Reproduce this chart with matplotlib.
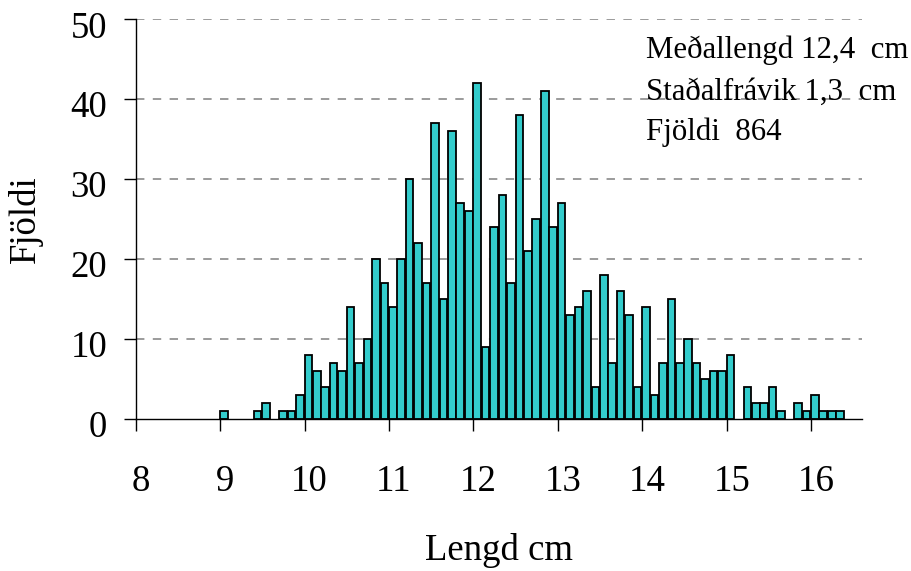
import matplotlib
matplotlib.use("Agg")
import matplotlib.pyplot as plt
import matplotlib.transforms as mtransforms
import numpy as np

plt.rcParams['font.family'] = ['Liberation Serif', 'DejaVu Serif']

# Data: length classes (cm) and counts
lengths = [9.0, 9.4, 9.5, 9.7, 9.8, 9.9,
           10.0, 10.1, 10.2, 10.3, 10.4, 10.5, 10.6, 10.7, 10.8, 10.9,
           11.0, 11.1, 11.2, 11.3, 11.4, 11.5, 11.6, 11.7, 11.8, 11.9,
           12.0, 12.1, 12.2, 12.3, 12.4, 12.5, 12.6, 12.7, 12.8, 12.9,
           13.0, 13.1, 13.2, 13.3, 13.4, 13.5, 13.6, 13.7, 13.8, 13.9,
           14.0, 14.1, 14.2, 14.3, 14.4, 14.5, 14.6, 14.7, 14.8, 14.9,
           15.0, 15.2, 15.3, 15.4, 15.5, 15.6, 15.8, 15.9,
           16.0, 16.1, 16.2, 16.3]
counts = [1, 1, 2, 1, 1, 3,
          8, 6, 4, 7, 6, 14, 7, 10, 20, 17,
          14, 20, 30, 22, 17, 37, 15, 36, 27, 26,
          42, 9, 24, 28, 17, 38, 21, 25, 41, 24,
          27, 13, 14, 16, 4, 18, 7, 16, 13, 4,
          14, 3, 7, 15, 7, 10, 7, 5, 6, 6,
          8, 4, 2, 2, 4, 1, 2, 1,
          3, 1, 1, 1]
xticks = [8, 9, 10, 11, 12, 13, 14, 15, 16]
yticks = [0, 10, 20, 30, 40, 50]
stats_lines = ["Meðallengd 12,4  cm", "Staðalfrávik 1,3  cm", "Fjöldi  864"]

fig = plt.figure(figsize=(9.11, 5.71), dpi=100)
W, H = 911, 571
ax = fig.add_axes([135.7 / W, (H - 419) / H, (861.7 - 135.7) / W, (419 - 19.3) / H])

ax.bar(lengths, counts, width=0.09, align='edge', color='#33CCCC',
       edgecolor='black', linewidth=1.3, zorder=3)

ax.set_xlim(8, 16.6)
ax.set_ylim(0, 50)
ax.set_xticks(xticks)
ax.set_yticks(yticks)
ax.set_xticklabels([str(t) for t in xticks])
ax.set_yticklabels([str(t) for t in yticks])

for y in yticks[1:]:
    ax.axhline(y, color='#808080', linewidth=1.1, linestyle=(0, (5.5, 5.5)), zorder=1)

for s in ['top', 'right']:
    ax.spines[s].set_visible(False)
for s in ['left', 'bottom']:
    ax.spines[s].set_linewidth(1.0)
    ax.spines[s].set_zorder(4)

ax.tick_params(axis='x', direction='out', length=8.6, width=1.0, pad=24, labelsize=26.5)
ax.tick_params(axis='y', direction='out', length=8.6, width=1.0, pad=12, labelsize=26.5)

dx = mtransforms.ScaledTranslation(5 / 100, 0, fig.dpi_scale_trans)
for lab in ax.get_xticklabels():
    lab.set_transform(lab.get_transform() + dx)
dy = mtransforms.ScaledTranslation(0, -5 / 100, fig.dpi_scale_trans)
for lab in ax.get_yticklabels():
    lab.set_transform(lab.get_transform() + dy)

ax.set_xlabel("Lengd cm", fontsize=26.5)
ax.set_ylabel("Fjöldi", fontsize=26.5)
ax.xaxis.set_label_coords(0.5, -0.285)
ax.yaxis.set_label_coords(-0.128, 0.5)

base_y = [58.3, 100, 140]
for txt, by in zip(stats_lines, base_y):
    fig.text(646 / W, (H - by) / H, txt, fontsize=22.2, ha='left', va='baseline')

fig.savefig("out.png", dpi=100)
